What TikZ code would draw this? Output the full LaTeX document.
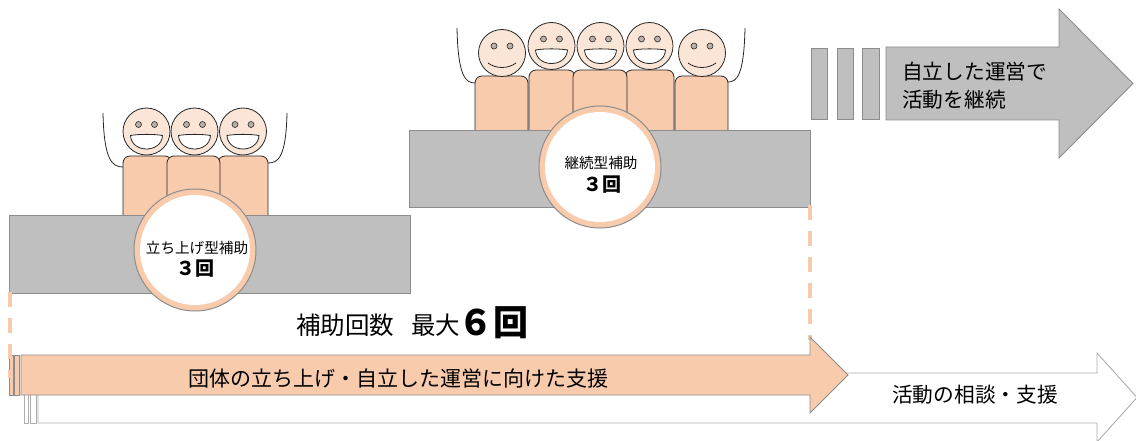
\documentclass[tikz,border=0pt]{standalone}
\usepackage{fontspec}
\setmainfont{Noto Sans CJK JP}
\definecolor{platgray}{HTML}{BFBFBF}
\definecolor{edgegray}{HTML}{8C8C8C}
\definecolor{lightedge}{HTML}{ADADAD}
\definecolor{skin}{HTML}{F8CBAD}
\definecolor{skinlight}{HTML}{FBE5D6}
\definecolor{ink}{HTML}{262626}
\definecolor{eyefill}{HTML}{BCAFA5}
\begin{document}
\begin{tikzpicture}[x=1pt,y=-1pt,
  platform/.style={fill=platgray, draw=edgegray, line width=0.9pt},
  bodybox/.style={fill=skin, draw=ink, line width=0.8pt, rounded corners=7pt},
  headc/.style={fill=skinlight, draw=ink, line width=0.8pt},
  eyedot/.style={fill=eyefill, draw=ink, line width=0.6pt},
  mouth/.style={fill=white, draw=ink, line width=0.8pt},
  arm/.style={draw=ink, line width=0.8pt},
  ring/.style={circle, fill=skin, draw=edgegray, line width=1pt, minimum size=122pt, inner sep=0pt},
  core/.style={circle, fill=white, minimum size=110pt, inner sep=0pt},
  guide/.style={draw=skin, line width=3.8pt, dash pattern=on 15pt off 11pt},
  grayarrow/.style={fill=platgray, draw=edgegray, line width=0.9pt},
  peacharrow/.style={fill=skin, draw=edgegray, line width=0.9pt},
  whitearrow/.style={fill=white, draw=lightedge, line width=0.9pt},
  lbl/.style={inner sep=0pt, text=black},
  grin/.pic={
    \draw[headc] (0,0) circle[radius=23.5];
    \draw[eyedot] (-8,-7) circle[radius=3];
    \draw[eyedot] (8,-7) circle[radius=3];
    \draw[mouth] (-16,4) .. controls (-8,2.5) and (8,2.5) .. (16,4)
      .. controls (15,22) and (-15,22) .. cycle;
  },
  smile/.pic={
    \draw[headc] (0,0) circle[radius=23.5];
    \draw[eyedot] (-8,-7) circle[radius=3];
    \draw[eyedot] (8,-7) circle[radius=3];
    \draw[arm] (-14,10) .. controls (-6,16) and (6,16) .. (14,10);
  }]
\useasboundingbox (0,0) rectangle (1136,441);

% ---- first group: three people on the left platform ----
\draw[arm] (103,113) .. controls (104,160) and (112,167) .. (123,167);
\draw[arm] (287,113) .. controls (286,158) and (278,163) .. (268,163);
\draw[bodybox] (123,156) rectangle (172,222);
\draw[bodybox] (218,156) rectangle (268,222);
\draw[bodybox] (167,156) rectangle (220,222);
\pic at (146.5,131.5) {grin};
\pic at (194.5,131.5) {grin};
\pic at (243,131.5) {grin};
\draw[platform] (9,215) rectangle (410,293);

% ---- second group: five people on the right platform ----
\draw[arm] (457,28) .. controls (458,75) and (465,83) .. (475,83);
\draw[arm] (745,28) .. controls (744,75) and (737,82) .. (728,82);
\draw[bodybox] (475,76) rectangle (528,137);
\draw[bodybox] (529,70) rectangle (575,137);
\draw[bodybox] (625,70) rectangle (674,137);
\draw[bodybox] (573,70) rectangle (627,137);
\draw[bodybox] (675,76) rectangle (728,137);
\pic at (502,53) {smile};
\pic at (551.5,46) {grin};
\pic at (600.5,46) {grin};
\pic at (649.5,46) {grin};
\pic at (702,53) {smile};
\draw[platform] (409,130) rectangle (810,207);

% ---- badges ----
\node[ring] (ringA) at (195,250) {};
\node[core] (coreA) at (ringA) {};
\node[lbl, font=\fontsize{14.6}{16}\selectfont] (typeA) at (197,248) {立ち上げ型補助};
\node[lbl, font=\fontsize{19}{21}\bfseries] (countA) at (195.5,269) {３回};

\node[ring] (ringB) at (600,167) {};
\node[core] (coreB) at (ringB) {};
\node[lbl, font=\fontsize{14.6}{16}\selectfont] (typeB) at (601,163) {継続型補助};
\node[lbl, font=\fontsize{19}{21}\bfseries] (countB) at (602.5,185) {３回};

% ---- total count ----
\node[lbl, font=\fontsize{24.5}{26}\selectfont, anchor=base west] (totalA) at (296,334) {補助回数};
\node[lbl, font=\fontsize{24.5}{26}\selectfont, anchor=base west] (totalB) at (411,334) {最大};
\node[lbl, font=\fontsize{35}{37}\bfseries, anchor=base west] (totalC) at (458,335) {６回};

% ---- top-right arrow: independent operation ----
\fill[platgray, draw=edgegray, line width=0.9pt] (811,48) rectangle (827,119);
\fill[platgray, draw=edgegray, line width=0.9pt] (837,48) rectangle (853,119);
\fill[platgray, draw=edgegray, line width=0.9pt] (862,48) rectangle (879,119);
\draw[grayarrow] (886,47) -- (1059,47) -- (1059,9) -- (1133,83.5) -- (1059,158)
  -- (1059,120) -- (886,120) -- cycle;
\node[lbl, font=\fontsize{20.7}{28}\selectfont, anchor=west, align=left] (keep) at (902,86)
  {自立した運営で\\活動を継続};

% ---- dashed span of the count ----
\draw[guide] (810,205) -- (810,340);

% ---- bottom arrows ----
\draw[whitearrow] (24,373) rectangle (28,423);
\draw[whitearrow] (30,373) rectangle (36,423);
\draw[whitearrow] (38,373) -- (1097,373) -- (1097,353) -- (1137,397.5) -- (1097,442)
  -- (1097,423) -- (38,423) -- cycle;
\node[lbl, font=\fontsize{20.7}{22}\selectfont] (consult) at (975,395) {活動の相談・支援};

\draw[peacharrow] (9.3,355) rectangle (13.3,395);
\draw[peacharrow] (14.5,355) rectangle (19,395);
\draw[peacharrow] (21,355) -- (810,355) -- (810,337) -- (848,375) -- (810,413)
  -- (810,395) -- (21,395) -- cycle;
\node[lbl, font=\fontsize{21}{23}\selectfont] (support) at (398.5,379) {団体の立ち上げ・自立した運営に向けた支援};

\draw[guide] (10,292) -- (10,378);
\end{tikzpicture}
\end{document}
